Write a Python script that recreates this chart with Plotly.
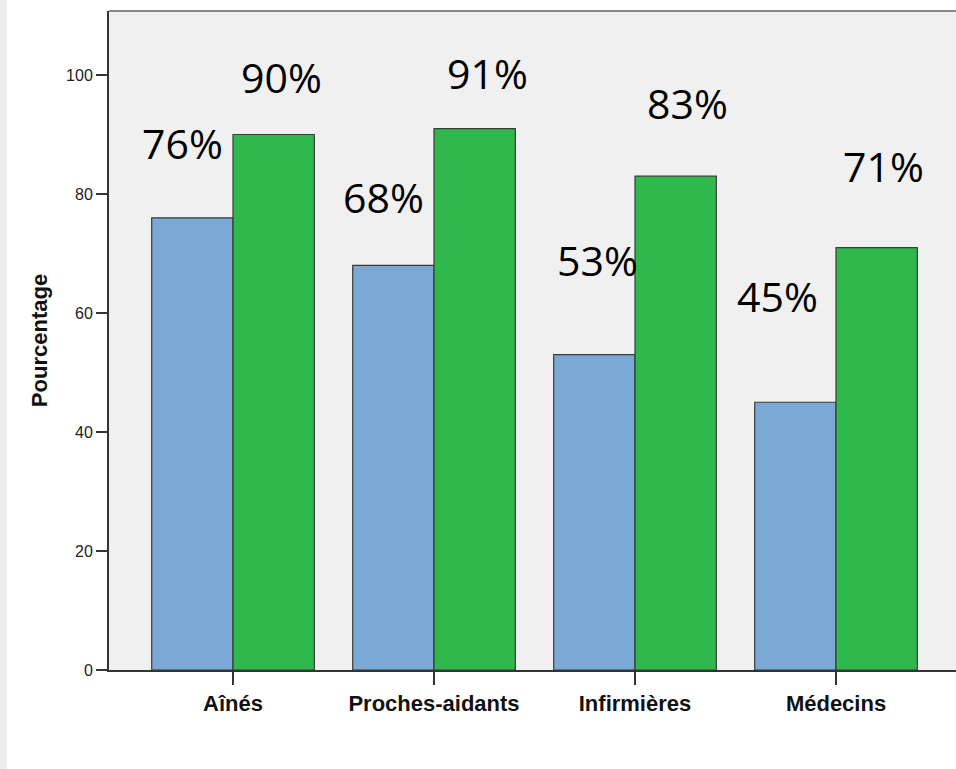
import plotly.graph_objects as go

categories = ["Aînés", "Proches-aidants", "Infirmières", "Médecins"]
series_a = [76, 68, 53, 45]
series_b = [90, 91, 83, 71]
y_ticks = [0, 20, 40, 60, 80, 100]

# label placement offsets in pixels (dx from category centre, dy above bar top)
lab_a_dx = [-50.5, -51, -38, -59]
lab_a_dy = [75, 68, 95, 106]
lab_b_dx = [48, 53, 52.5, 47]
lab_b_dy = [58, 55.5, 73, 82]

W, H = 956, 769
ML, MR, MT, MB = 109, 0, 11, 99
PW = W - ML - MR
PH = H - MT - MB

fig = go.Figure()
fig.add_trace(go.Bar(x=categories, y=series_a, name="A",
                     marker=dict(color="#7AA9D6", line=dict(color="#3a3a3a", width=1.2))))
fig.add_trace(go.Bar(x=categories, y=series_b, name="B",
                     marker=dict(color="#2FB84C", line=dict(color="#3a3a3a", width=1.2))))

ann = []
for vals, dxs, dys in ((series_a, lab_a_dx, lab_a_dy), (series_b, lab_b_dx, lab_b_dy)):
    for c, v, dx, dy in zip(categories, vals, dxs, dys):
        ann.append(dict(x=c, y=v, xref="x", yref="y", text=f"{v}%", showarrow=False,
                        xshift=dx, yshift=dy, xanchor="center", yanchor="middle",
                        font=dict(family="Open Sans", size=41, color="#000000")))

fig.update_layout(
    width=W, height=H,
    margin=dict(l=ML, r=MR, t=MT, b=MB, pad=0),
    paper_bgcolor="#FFFFFF", plot_bgcolor="#F0F0F0",
    barmode="group", bargap=0.191, bargroupgap=0,
    showlegend=False,
    annotations=ann,
    xaxis=dict(type="category", range=[-0.617, 3.597], showgrid=False, zeroline=False,
               showline=True, linecolor="#333333", linewidth=2,
               ticks="outside", ticklen=13, tickwidth=1.5, tickcolor="#333333",
               tickfont=dict(family="Liberation Sans", size=22, color="#111111"),
               tickprefix="<b>", ticksuffix="</b>"),
    yaxis=dict(range=[0, 110.76], tickvals=y_ticks, showgrid=False, zeroline=False,
               showline=True, linecolor="#333333", linewidth=2,
               ticks="outside", ticklen=11, tickwidth=1.5, tickcolor="#333333",
               tickfont=dict(family="Liberation Sans", size=16, color="#222222"),
               title=dict(text="<b>Pourcentage</b>", standoff=12,
                          font=dict(family="Liberation Sans", size=22, color="#111111"))),
    shapes=[
        dict(type="rect", xref="paper", yref="paper",
             x0=-ML / PW, x1=(7 - ML) / PW, y0=-MB / PH, y1=1 + MT / PH,
             fillcolor="#EEEEEE", line=dict(width=0), layer="below"),
        dict(type="line", xref="paper", yref="paper", x0=0, x1=1, y0=1, y1=1,
             line=dict(color="#888888", width=2)),
    ],
)

fig.write_html("out.html")
